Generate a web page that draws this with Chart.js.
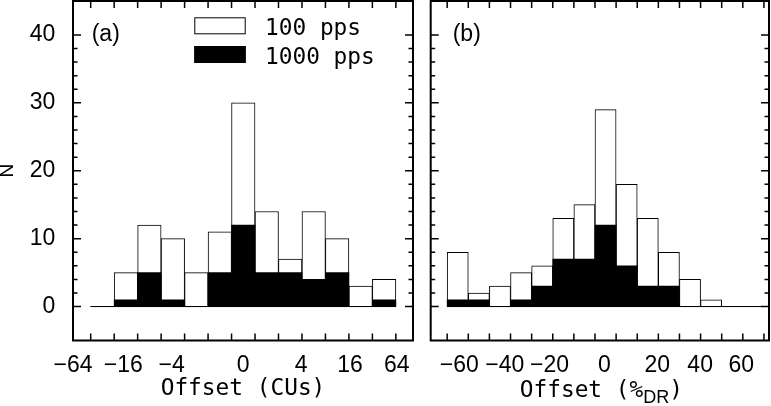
<!DOCTYPE html>
<html>
<head>
<meta charset="utf-8">
<script src="https://cdn.jsdelivr.net/npm/chart.js@4"></script>
<style>
  html, body { margin: 0; padding: 0; background: #fff; }
  #wrap { position: relative; width: 771px; height: 406px; }
  canvas { position: absolute; top: 0; }
  #chartA { left: 0; }
  #chartB { left: 420px; }
</style>
</head>
<body>
<div id="wrap">
  <canvas id="chartA" width="420" height="406"></canvas>
  <canvas id="chartB" width="351" height="406"></canvas>
</div>
<script>
// counts per bin
const seriesNames = ['100 pps', '1000 pps']
const countsA100 = [0, 5, 12, 10, 5, 11, 30, 14, 7, 14, 10, 3, 4]
const countsA1000 = [0, 1, 5, 1, 0, 5, 12, 5, 5, 4, 5, 0, 1]
const countsB100 = [8, 2, 3, 5, 6, 13, 15, 29, 18, 13, 8, 4, 1, 0, 0]
const countsB1000 = [1, 1, 0, 1, 3, 7, 7, 12, 6, 3, 3, 0, 0, 0, 0]

// tick labels and where they sit on the bin axis
const tickLabelsA = ['−64', '−16', '−4', '0', '4', '16', '64']
const tickPosA = [-0.75, 1.39, 3.45, 6.49, 8.97, 11.05, 13.04]
const tickLabelsB = ['−60', '−40', '−20', '0', '20', '40', '60']
const tickPosB = [0.57, 2.73, 4.85, 7.45, 9.95, 11.98, 13.93]
const yTicks = [0, 10, 20, 30, 40]

const SANS = "'Liberation Sans', Arial, sans-serif"
const MONO = "'DejaVu Sans Mono', monospace"

// box round the plot with inward ticks on every side
const framePlugin = {
  id: 'frame',
  afterDatasetsDraw(chart, args, opts) {
    const {ctx, chartArea: a, scales: {x, y}} = chart
    ctx.save()
    ctx.strokeStyle = '#000'
    ctx.lineWidth = 2
    ctx.strokeRect(a.left, a.top, a.right - a.left, a.bottom - a.top)
    ctx.lineWidth = 1.5
    ctx.beginPath()
    for (let i = 0; i <= opts.bins; i++) {
      const px = x.getPixelForValue(i)
      ctx.moveTo(px, a.bottom); ctx.lineTo(px, a.bottom - 7)
      ctx.moveTo(px, a.top); ctx.lineTo(px, a.top + 7)
    }
    for (let v = 0; v <= 40; v += 2) {
      const py = y.getPixelForValue(v)
      const len = v % 10 == 0 ? 8 : 4.5
      ctx.moveTo(a.left, py); ctx.lineTo(a.left + len, py)
      ctx.moveTo(a.right, py); ctx.lineTo(a.right - len, py)
    }
    ctx.stroke()
    ctx.restore()
  }
}

const panelA = {
  id: 'panelA',
  afterDraw(chart) {
    const {ctx, chartArea: a} = chart
    ctx.save()
    ctx.fillStyle = '#000'
    ctx.font = '23px ' + SANS
    ctx.textBaseline = 'alphabetic'
    ctx.fillText('(a)', a.left + 18.7, 41)
    // legend
    ctx.font = '22.8px ' + MONO
    chart.data.datasets.slice(0, 2).forEach((ds, i) => {
      const bx = a.left + 121.3, by = 17.3 + i * 28.7
      ctx.fillStyle = ds.backgroundColor
      ctx.fillRect(bx, by, 51.4, 17)
      ctx.lineWidth = 1
      ctx.strokeStyle = '#000'
      ctx.strokeRect(bx + 0.5, by + 0.5, 50.4, 16)
      ctx.fillStyle = '#000'
      ctx.fillText(ds.label, bx + 70.7, by + 17.5)
    })
    ctx.restore()
  }
}

const panelB = {
  id: 'panelB',
  afterDraw(chart) {
    const {ctx, chartArea: a} = chart
    ctx.save()
    ctx.fillStyle = '#000'
    ctx.font = '23px ' + SANS
    ctx.textBaseline = 'alphabetic'
    ctx.fillText('(b)', a.left + 22, 41)
    // axis title with subscript
    const bigFont = '22.8px ' + MONO, subFont = '18px ' + SANS
    ctx.font = bigFont
    const w1 = ctx.measureText('Offset (%').width
    const w3 = ctx.measureText(')').width
    ctx.font = subFont
    const w2 = ctx.measureText('DR').width
    let x0 = (a.left + a.right) / 2 + 1.5 - (w1 + w2 + w3) / 2
    ctx.font = bigFont
    ctx.fillText('Offset (%', x0, 397)
    ctx.font = subFont
    ctx.fillText('DR', x0 + w1, 403)
    ctx.font = bigFont
    ctx.fillText(')', x0 + w1 + w2, 397)
    ctx.restore()
  }
}

function histChart(id, c100, c1000, tickLabels, tickPos, cfg) {
  const bins = c100.length
  const toPoints = arr => arr.map((v, i) => ({x: i + 0.5, y: v}))
  return new Chart(document.getElementById(id), {
    type: 'bar',
    data: {
      datasets: [
        {label: seriesNames[0], data: toPoints(c100), backgroundColor: '#fff', borderColor: '#000',
         borderWidth: 1, borderSkipped: false, order: 2},
        {label: seriesNames[1], data: toPoints(c1000), backgroundColor: '#000', borderWidth: 0, order: 1},
        {type: 'line', data: [{x: 0, y: 0}, {x: bins, y: 0}], borderColor: '#000', borderWidth: 1,
         pointRadius: 0, order: 0}
      ]
    },
    options: {
      responsive: false,
      animation: false,
      devicePixelRatio: 1,
      events: [],
      layout: {padding: cfg.padding},
      datasets: {bar: {grouped: false, categoryPercentage: 1, barPercentage: 1}},
      plugins: {legend: {display: false}, tooltip: {enabled: false}, frame: {bins: bins}},
      scales: {
        x: {
          type: 'linear', min: cfg.xmin, max: cfg.xmax, offset: false,
          grid: {display: false, offset: false}, border: {display: false},
          afterBuildTicks: s => { s.ticks = tickPos.map(v => ({value: v})) },
          afterFit: s => { s.height = 65.5; s.paddingLeft = 0; s.paddingRight = 0 },
          ticks: {autoSkip: false, maxRotation: 0, padding: 3, color: '#000',
                  font: {family: SANS, size: 23}, callback: (v, i) => tickLabels[i]},
          title: {display: cfg.xTitle != null, text: cfg.xTitle, color: '#000',
                  font: {family: MONO, size: 22.8}, padding: {top: 0, bottom: 3.2}}
        },
        y: {
          min: -5, max: 45,
          grid: {display: false}, border: {display: false},
          afterBuildTicks: s => { s.ticks = yTicks.map(v => ({value: v})) },
          afterFit: s => { s.width = cfg.yWidth; s.paddingTop = 0; s.paddingBottom = 0 },
          ticks: {display: cfg.yLabels, padding: 9.7, color: '#000', font: {family: SANS, size: 23}},
          title: {display: cfg.yLabels, text: 'N', color: '#000',
                  font: {family: SANS, size: 19, lineHeight: '16px'}, padding: 0}
        }
      }
    },
    plugins: [framePlugin, cfg.extra]
  })
}

histChart('chartA', countsA100, countsA1000, tickLabelsA, tickPosA, {
  padding: {left: 0, right: 7, top: 1, bottom: 0},
  xmin: -0.754, xmax: 13.73, yWidth: 73, yLabels: true, xTitle: 'Offset (CUs)', extra: panelA
})
histChart('chartB', countsB100, countsB1000, tickLabelsB, tickPosB, {
  padding: {left: 0, right: 2, top: 1, bottom: 0},
  xmin: -0.78, xmax: 15.24, yWidth: 10.7, yLabels: false, xTitle: null, extra: panelB
})
</script>
</body>
</html>
